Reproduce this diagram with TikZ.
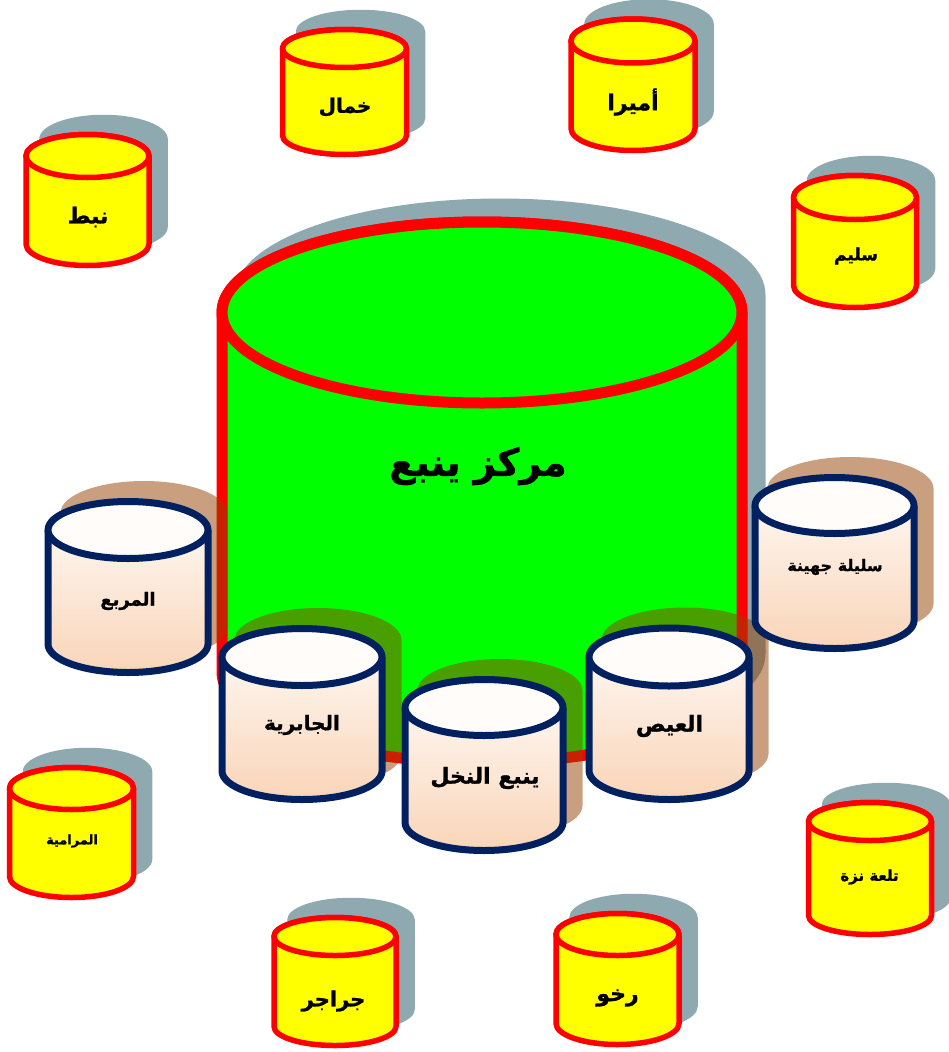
\documentclass[tikz,border=0pt]{standalone}
\usepackage{fontspec}
\newfontfamily\ar[Script=Arabic,BoldFeatures={FakeBold=1.2}]{DejaVu Sans}
\TeXXeTstate=1
\definecolor{cgreen}{RGB}{0,255,0}
\definecolor{cred}{RGB}{255,0,0}
\definecolor{cyellow}{RGB}{255,255,0}
\definecolor{cnavy}{RGB}{0,32,96}
\definecolor{cpeach}{RGB}{249,213,184}
\definecolor{cpinktop}{RGB}{255,252,250}
\definecolor{cgreysh}{RGB}{31,85,97}
\definecolor{cbrownsh}{RGB}{148,65,0}
\tikzset{
  greysh/.style={fill=cgreysh, fill opacity=0.5},
  brownsh/.style={fill=cbrownsh, fill opacity=0.5},
  ycyl/.style={draw=cred, fill=cyellow, line width=5.5pt, line join=round},
  pcyl/.style={draw=cnavy, line width=7pt, line join=round},
  bigcyl/.style={draw=cred, fill=cgreen, line width=11pt, line join=round},
  lbl/.style={inner sep=0pt, text=black},
}
% #1 cx #2 ty #3 by #4 rx #5 ry #6 name #7 label pos #8 text
\newcommand\ycylinder[8]{%
  \fill[greysh, shift={(16,-17)}] ({#1-#4-2.75},#2) -- ({#1-#4-2.75},#3)
     arc[start angle=180,end angle=0,x radius={#4+2.75},y radius={#5+2.75}]
     -- ({#1+#4+2.75},#2)
     arc[start angle=0,end angle=-180,x radius={#4+2.75},y radius={#5+2.75}] -- cycle;
  \path[ycyl] ({#1-#4},#2) -- ({#1-#4},#3)
     arc[start angle=180,end angle=0,x radius=#4,y radius=#5]
     -- ({#1+#4},#2)
     arc[start angle=0,end angle=-180,x radius=#4,y radius=#5] -- cycle;
  \path[ycyl] (#1,#2) ellipse[x radius=#4, y radius=#5];
  \node[lbl] (#6) at (#7) {#8};
}
\newcommand\pcylinder[8]{%
  \fill[brownsh, shift={(16,-17)}] ({#1-#4-3.5},#2) -- ({#1-#4-3.5},#3)
     arc[start angle=180,end angle=0,x radius={#4+3.5},y radius={#5+3.5}]
     -- ({#1+#4+3.5},#2)
     arc[start angle=0,end angle=-180,x radius={#4+3.5},y radius={#5+3.5}] -- cycle;
  \shade[top color=cpinktop, bottom color=cpeach] ({#1-#4},#2) -- ({#1-#4},#3)
     arc[start angle=180,end angle=0,x radius=#4,y radius=#5]
     -- ({#1+#4},#2)
     arc[start angle=0,end angle=-180,x radius=#4,y radius=#5] -- cycle;
  \draw[pcyl] ({#1-#4},#2) -- ({#1-#4},#3)
     arc[start angle=180,end angle=0,x radius=#4,y radius=#5]
     -- ({#1+#4},#2);
  \path[pcyl, fill=cpinktop] (#1,#2) ellipse[x radius=#4, y radius=#5];
  \node[lbl] (#6) at (#7) {#8};
}
\newcommand\arsz[1]{\ar\bfseries\fontsize{#1}{#1}\selectfont}
\begin{document}
\begin{tikzpicture}[x=1pt,y=-1pt]
\useasboundingbox (0,0) rectangle (949,1052);
\fill[white] (0,0) rectangle (949,1052);
% big shadow
\fill[greysh, shift={(18,-18)}] ({482-260-5.5},312.5) -- ({482-260-5.5},672)
   arc[start angle=180,end angle=0,x radius=265.5,y radius=96]
   -- ({482+260+5.5},312.5)
   arc[start angle=0,end angle=-180,x radius=265.5,y radius=96] -- cycle;
% yellow cylinders
\ycylinder{87.5}{156}{244}{61.5}{21.5}{nabt}{88,217}{\arsz{22}\beginR نبط\endR}
\ycylinder{344.5}{48.5}{135.5}{62}{19}{khamal}{345,107}{\arsz{20}\beginR خمال\endR}
\ycylinder{633}{41}{128.5}{62}{22}{amira}{633,102}{\arsz{22}\beginR أميرا\endR}
\ycylinder{855}{197.5}{285.5}{61.5}{22}{salim}{856,256}{\arsz{17}\beginR سليم\endR}
\ycylinder{71.5}{788.5}{876.5}{62}{21}{maramiya}{72,841}{\arsz{13}\beginR المرامية\endR}
\ycylinder{335}{936.5}{1026.5}{61}{19}{jarajir}{333.5,1001}{\arsz{21}\beginR جراجر\endR}
\ycylinder{617.5}{934.5}{1023.5}{61.5}{21}{rakhu}{617.5,998}{\arsz{22}\beginR رخو\endR}
\ycylinder{870}{821.5}{915.5}{61.5}{19}{talaa}{869.5,877}{\arsz{15}\beginR تلعة نزة\endR}
% big cylinder
\path[bigcyl] ({482-260},312.5) -- ({482-260},672)
   arc[start angle=180,end angle=0,x radius=260,y radius=90.5]
   -- ({482+260},312.5)
   arc[start angle=0,end angle=-180,x radius=260,y radius=90.5] -- cycle;
\path[bigcyl] (482,312.5) ellipse[x radius=260, y radius=90.5];
\node[lbl] (markaz) at (478,466) {\arsz{38}\beginR مركز ينبع\endR};
% pink cylinders
\pcylinder{128}{530}{644}{80}{28.5}{murabba}{128,601}{\arsz{18}\beginR المربع\endR}
\pcylinder{669}{657}{770.5}{80}{29}{ais}{669.5,726}{\arsz{22}\beginR العيص\endR}
\pcylinder{834.5}{505.5}{620.5}{79.5}{28}{sulaila}{835,567}{\arsz{16}\beginR سليلة جهينة\endR}
\pcylinder{484}{707.5}{822.5}{79}{28}{nakhl}{485,778}{\arsz{22}\beginR ينبع النخل\endR}
\pcylinder{302}{657}{771}{80}{28.5}{jabiriya}{302,725}{\arsz{20}\beginR الجابرية\endR}
\end{tikzpicture}
\end{document}
